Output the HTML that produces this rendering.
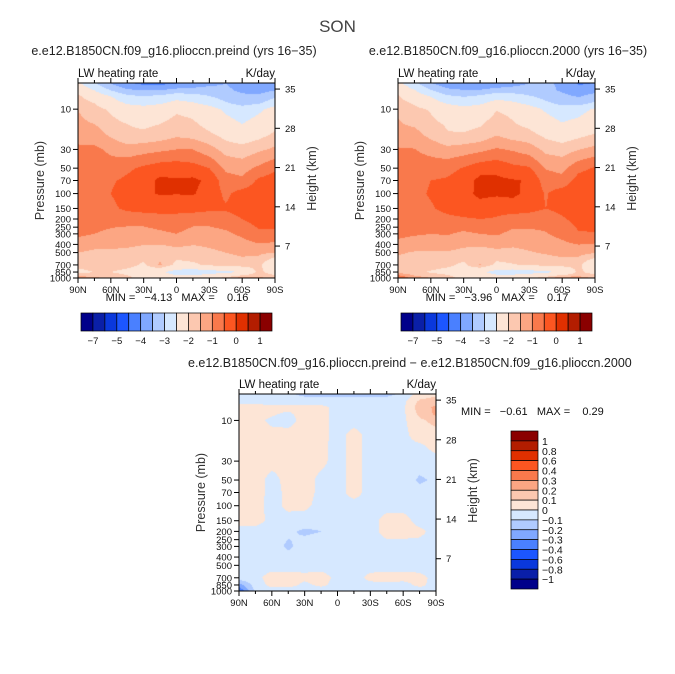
<!DOCTYPE html>
<html><head><meta charset="utf-8">
<style>
body{margin:0;background:#fff;width:675px;height:674px;overflow:hidden;position:relative;font-family:"Liberation Sans",sans-serif;color:#222}
.t{position:absolute;white-space:nowrap;font-family:"Liberation Sans",sans-serif}
canvas{position:absolute}
svg{position:absolute;left:0;top:0}
svg text{white-space:pre}
</style></head>
<body>
<div class="t" style="left:0;width:675px;text-align:center;top:17px;font-size:17px;color:#444">SON</div>
<div class="t" style="left:4px;width:340px;text-align:center;top:44px;font-size:12.5px">e.e12.B1850CN.f09_g16.plioccn.preind (yrs 16−35)</div>
<div class="t" style="left:338px;width:340px;text-align:center;top:44px;font-size:12.5px">e.e12.B1850CN.f09_g16.plioccn.2000 (yrs 16−35)</div>
<div class="t" style="left:188px;width:400px;text-align:center;top:356px;font-size:12.5px">e.e12.B1850CN.f09_g16.plioccn.preind − e.e12.B1850CN.f09_g16.plioccn.2000</div>
<canvas id="c0" width="197" height="195" style="left:78px;top:83px"></canvas>
<canvas id="c1" width="197" height="195" style="left:398px;top:83px"></canvas>
<canvas id="c2" width="197" height="197" style="left:239px;top:394px"></canvas>
<svg id="ov" width="675" height="674"></svg>
<script>
const lats=[90,75,60,45,30,15,0,-15,-30,-45,-60,-75,-90];
const pres=[5,6,7,8.5,10,15,20,30,50,70,100,150,200,300,500,700,850,1000];
const fieldA=[
[-1.4,-1.9,-2.5,-2.9,-3.1,-3.1,-3.0,-2.8,-2.6,-2.5,-2.7,-3.0,-2.9],
[-1.1,-1.5,-2.0,-2.4,-2.5,-2.5,-2.3,-2.3,-2.3,-2.4,-2.6,-2.7,-2.5],
[-0.95,-1.2,-1.5,-1.9,-2.0,-1.9,-1.7,-1.8,-2.0,-2.2,-2.4,-2.4,-2.1],
[-0.85,-1.0,-1.25,-1.55,-1.65,-1.55,-1.35,-1.45,-1.65,-1.95,-2.15,-2.05,-1.7],
[-0.75,-0.9,-1.05,-1.25,-1.3,-1.2,-1.05,-1.1,-1.3,-1.6,-1.8,-1.6,-1.3],
[-0.7,-0.75,-0.9,-1.0,-1.05,-1.0,-0.9,-0.95,-1.1,-1.3,-1.5,-1.3,-1.1],
[-0.6,-0.62,-0.8,-0.95,-0.95,-0.9,-0.8,-0.85,-0.95,-1.1,-1.2,-1.1,-0.95],
[-0.45,-0.45,-0.55,-0.65,-0.6,-0.55,-0.5,-0.5,-0.65,-0.85,-0.9,-0.8,-0.7],
[-0.35,-0.35,-0.4,-0.3,-0.2,-0.12,-0.1,-0.15,-0.25,-0.55,-0.6,-0.45,-0.3],
[-0.3,-0.3,-0.28,-0.2,-0.1,0.05,0.02,0.05,-0.05,-0.4,-0.45,-0.2,-0.12],
[-0.3,-0.3,-0.25,-0.15,-0.05,0.02,0.01,0.02,-0.1,-0.3,-0.15,-0.1,-0.1],
[-0.35,-0.35,-0.3,-0.2,-0.15,-0.15,-0.2,-0.15,-0.2,-0.22,-0.15,-0.1,-0.1],
[-0.4,-0.4,-0.42,-0.4,-0.4,-0.35,-0.3,-0.4,-0.4,-0.35,-0.25,-0.15,-0.15],
[-0.45,-0.5,-0.55,-0.6,-0.6,-0.55,-0.5,-0.6,-0.6,-0.55,-0.45,-0.3,-0.3],
[-0.75,-0.8,-0.8,-0.8,-0.85,-0.9,-0.85,-0.85,-0.8,-0.75,-0.7,-0.7,-0.75],
[-0.9,-0.85,-0.85,-0.9,-1.05,-0.7,-1.1,-1.05,-0.95,-0.9,-0.85,-0.9,-1.4],
[-1.1,-1.0,-1.0,-1.1,-1.2,-1.4,-1.7,-1.8,-1.7,-1.6,-1.5,-0.9,-1.2],
[-0.6,-0.7,-0.8,-0.9,-1.2,-1.3,-1.3,-1.2,-1.1,-0.9,-0.6,-0.7,-0.8]];
const fieldDiff=[
[-0.05,-0.05,-0.05,-0.08,-0.12,-0.12,-0.12,-0.12,-0.12,-0.12,-0.08,0.05,0.08],
[-0.03,-0.03,-0.05,-0.05,-0.05,-0.05,-0.05,-0.05,-0.05,-0.05,-0.03,0.12,0.15],
[0.03,0.04,0.03,0.03,0.04,0.03,-0.03,-0.03,-0.03,-0.04,-0.02,0.15,0.22],
[0.03,0.04,0.01,-0.02,0.04,0.03,-0.03,-0.03,-0.03,-0.04,-0.02,0.12,0.22],
[0.03,0.03,-0.02,-0.03,0.03,0.03,-0.03,-0.03,-0.03,-0.03,-0.02,0.08,0.13],
[0.03,0.04,0.03,0.03,0.03,0.03,-0.03,0.03,-0.03,-0.03,-0.03,0.05,0.06],
[0.03,0.04,0.03,0.03,0.03,0.02,-0.03,0.03,-0.03,-0.03,-0.03,-0.02,0.03],
[0.03,0.04,0.03,0.03,0.03,0.02,-0.03,0.03,-0.03,-0.03,-0.03,-0.04,-0.03],
[0.03,0.04,-0.03,0.03,0.03,-0.02,-0.03,0.03,-0.03,-0.03,-0.03,-0.12,-0.08],
[0.03,0.04,-0.03,0.02,0.03,-0.02,-0.03,0.03,-0.03,-0.03,-0.03,-0.06,-0.04],
[0.02,0.03,-0.03,0.02,0.02,-0.03,-0.03,-0.03,-0.03,-0.03,-0.03,-0.03,-0.03],
[0.02,0.03,-0.02,-0.03,-0.04,-0.06,-0.03,-0.03,-0.03,0.03,0.03,-0.03,-0.03],
[-0.02,-0.03,-0.05,-0.08,-0.12,-0.1,-0.03,-0.03,-0.03,0.03,0.03,0.02,-0.03],
[-0.03,-0.03,-0.05,-0.12,-0.05,-0.05,-0.03,-0.03,-0.03,-0.03,-0.03,-0.03,-0.03],
[-0.03,-0.03,-0.03,-0.03,-0.03,-0.03,-0.03,-0.03,-0.03,-0.03,-0.03,-0.03,-0.03],
[-0.03,-0.02,0.03,0.03,0.02,0.03,-0.02,-0.03,0.02,0.03,0.03,0.02,-0.02],
[-0.25,-0.05,0.03,0.03,-0.02,0.02,-0.03,-0.03,-0.02,-0.02,-0.03,0.02,-0.03],
[-0.4,-0.08,-0.05,-0.05,-0.05,-0.05,-0.04,-0.05,-0.05,-0.05,-0.05,-0.04,-0.03]];
const fieldB=fieldA.map((r,i)=>r.map((v,j)=>v-fieldDiff[i][j]));
const levelsAbs=[-7,-6,-5,-4,-3,-2.5,-2,-1.5,-1,-0.75,-0.5,-0.25,0,0.5,1];
const levelsDiff=[-1,-0.8,-0.6,-0.4,-0.3,-0.2,-0.1,0,0.1,0.2,0.3,0.4,0.6,0.8,1];
const cbarAbsLabels=["−7","−5","−4","−3","−2","−1","0","1"];
const cbarDiffLabels=["1","0.8","0.6","0.4","0.3","0.2","0.1","0","−0.1","−0.2","−0.3","−0.4","−0.6","−0.8","−1"];
const presTicks=[10,30,50,70,100,150,200,250,300,400,500,700,850,1000];
const kmTicks=[7,14,21,28,35];
const latTicks=[90,60,30,0,-30,-60,-90];
const latLabels=["90N","60N","30N","0","30S","60S","90S"];
const colors=["#00008a","#0a1fa8","#0a38dc","#1c56ff","#4a80ff","#80a8ff","#b0cbff","#d6e8ff","#fde5d6","#fcc8b0","#fca683","#f9794c","#fc5621","#e03000","#b31d00","#8a0000"];

const PTOP=4.9,PBOT=1000;
function hexRgb(h){return [parseInt(h.substr(1,2),16),parseInt(h.substr(3,2),16),parseInt(h.substr(5,2),16)];}
function sample(F,lat,lp){
  let j=(90-lat)/15; j=Math.max(0,Math.min(11.9999,j)); const j0=Math.floor(j),fj=j-j0;
  const lps=pres.map(Math.log);
  let i=0; while(i<lps.length-2 && lp>lps[i+1]) i++;
  let fi=(lp-lps[i])/(lps[i+1]-lps[i]); fi=Math.max(0,Math.min(1,fi));
  const a=F[i][j0]*(1-fj)+F[i][j0+1]*fj, b=F[i+1][j0]*(1-fj)+F[i+1][j0+1]*fj;
  return a*(1-fi)+b*fi;
}
function draw(id,F,L){
  const c=document.getElementById(id),ctx=c.getContext('2d'),W=c.width,H=c.height;
  const img=ctx.createImageData(W,H);
  const rgb=colors.map(hexRgb);
  for(let y=0;y<H;y++){
    const lp=Math.log(PTOP)+(Math.log(PBOT)-Math.log(PTOP))*(y+0.5)/H;
    for(let x=0;x<W;x++){
      const lat=90-180*(x+0.5)/W;
      const v=sample(F,lat,lp);
      let k=0; while(k<L.length && v>L[k]) k++;
      const o=(y*W+x)*4,cc=rgb[k];
      img.data[o]=cc[0];img.data[o+1]=cc[1];img.data[o+2]=cc[2];img.data[o+3]=255;
    }
  }
  ctx.putImageData(img,0,0);
}
draw('c0',fieldA,levelsAbs);draw('c1',fieldB,levelsAbs);draw('c2',fieldDiff,levelsDiff);

const NS="http://www.w3.org/2000/svg",ov=document.getElementById('ov');
function el(tag,at,txt){const e=document.createElementNS(NS,tag);for(const k in at)e.setAttribute(k,at[k]);if(txt!==undefined)e.textContent=txt;ov.appendChild(e);return e;}
function axes(px,py,W,H,pre,minmax){
  const yP=p=>py+H*(Math.log(p)-Math.log(PTOP))/(Math.log(PBOT)-Math.log(PTOP));
  const yK=km=>py+H*(202.3-km*5.607)/195;
  const xL=lat=>px+W*(90-lat)/180;
  const fr=el('rect',{x:px,y:py,width:W,height:H,fill:'none',stroke:'#000','stroke-width':1});
  
  
  for(let lat=90;lat>=-90;lat-=15){
    const len=lat%30===0?5:3,x=xL(lat);
    el('line',{x1:x,x2:x,y1:py+H,y2:py+H+len,stroke:'#000'});
    el('line',{x1:x,x2:x,y1:py,y2:py-len,stroke:'#000'});
  }
  latTicks.forEach((lat,i)=>{
    const t=el('text',{x:xL(lat),y:py+H+15,'font-size':9.5,'text-anchor':'middle',fill:'#111'},latLabels[i]);
    
    
  });
  presTicks.forEach(p=>{
    const y=yP(p);
    el('line',{x1:px,x2:px-5,y1:y,y2:y,stroke:'#000'});
    const t=el('text',{x:px-7,y:y+3.5,'font-size':9.5,'text-anchor':'end',fill:'#111'},String(p));
    
    
  });
  kmTicks.forEach(k=>{
    const y=yK(k);
    el('line',{x1:px+W,x2:px+W+5,y1:y,y2:y,stroke:'#000'});
    const t=el('text',{x:px+W+10,y:y+3.5,'font-size':9.5,fill:'#111'},String(k));
    
    
  });
  const a=el('text',{x:0,y:0,'font-size':12.5,'text-anchor':'middle',fill:'#333',transform:`translate(${px-34},${py+H/2}) rotate(-90)`},'Pressure (mb)');
  
  
  const b=el('text',{x:0,y:0,'font-size':12.5,'text-anchor':'middle',fill:'#333',transform:`translate(${px+W+41},${py+H/2-2}) rotate(-90)`},'Height (km)');
  
  
  const l=el('text',{x:px,y:py-6,'font-size':11.5,fill:'#111'},'LW heating rate');
  
  
  const u=el('text',{x:px+W,y:py-6,'font-size':11.5,'text-anchor':'end',fill:'#111'},'K/day');
  
  
  if(minmax){
    const m=el('text',{x:minmax[0],y:minmax[1],'font-size':11,'text-anchor':minmax[3],fill:'#111'},minmax[2]);
    
    
  }
}
axes(78,83,197,195,'preind',[177,301,'MIN =   −4.13   MAX =    0.16','middle']);
axes(398,83,197,195,'pd2000',[497,301,'MIN =   −3.96   MAX =    0.17','middle']);
axes(239,394,197,197,'diff',[461,415,'MIN =   −0.61   MAX =    0.29','start']);

function hbar(x0,y0,w,h,pre){
  const bw=w/colors.length;
  colors.forEach((c,i)=>{
    const r=el('rect',{x:x0+i*bw,y:y0,width:bw,height:h,fill:c,stroke:'#000','stroke-width':0.7});
    
    
  });
  cbarAbsLabels.forEach((s,i)=>{
    const t=el('text',{x:x0+bw*(1+2*i),y:y0+h+13,'font-size':9.5,'text-anchor':'middle',fill:'#111'},s);
    
    
  });
}
hbar(81,313,191,18,'preind');
hbar(401,313,191,18,'pd2000');
(function(){
  const x0=511,y0=431,w=27,h=158,bh=h/colors.length;
  colors.slice().reverse().forEach((c,i)=>{
    const r=el('rect',{x:x0,y:y0+i*bh,width:w,height:bh,fill:c,stroke:'#000','stroke-width':0.7});
    
    
  });
  cbarDiffLabels.forEach((s,i)=>{
    const t=el('text',{x:x0+w+4,y:y0+bh*(i+1)+4,'font-size':10.5,fill:'#111'},s);
    
    
  });
})();
</script>
</body></html>
